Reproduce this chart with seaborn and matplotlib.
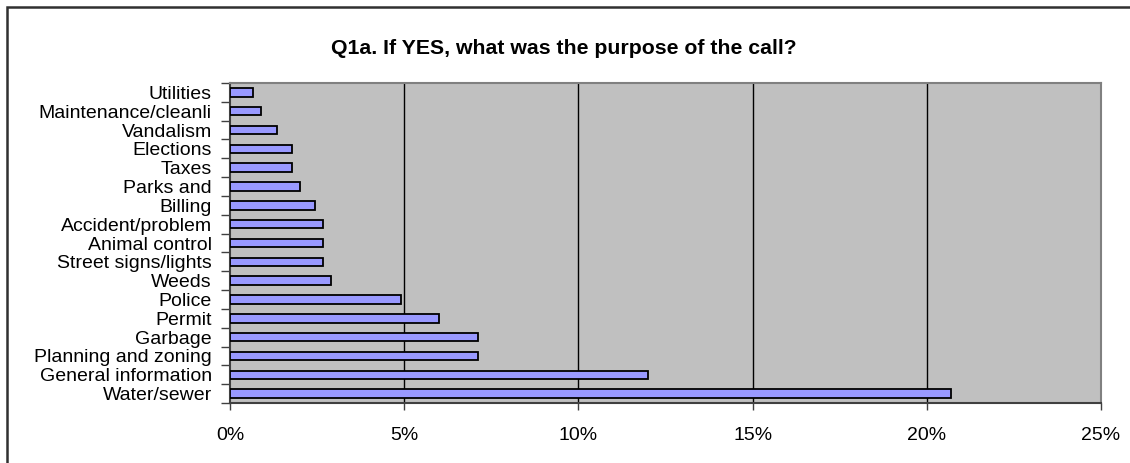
import matplotlib
matplotlib.use('Agg')
import matplotlib.pyplot as plt
import matplotlib.patches as patches
from matplotlib.ticker import PercentFormatter, FixedLocator
import seaborn as sns
import pandas as pd

# purpose of the call, top to bottom as in the chart
purposes = ['Utilities', 'Maintenance/cleanli', 'Vandalism', 'Elections', 'Taxes',
            'Parks and', 'Billing', 'Accident/problem', 'Animal control',
            'Street signs/lights', 'Weeds', 'Police', 'Permit', 'Garbage',
            'Planning and zoning', 'General information', 'Water/sewer']
# share of respondents, in percent
shares = [0.67, 0.89, 1.34, 1.78, 1.78, 2.0, 2.45, 2.67, 2.67, 2.67, 2.9,
          4.9, 6.0, 7.13, 7.13, 12.0, 20.7]
xticks = [0, 5, 10, 15, 20, 25]

df = pd.DataFrame({'purpose': purposes, 'share': shares})

sns.set_style('white')
plt.rcParams['font.family'] = ['Liberation Sans', 'DejaVu Sans']
plt.rcParams['text.color'] = 'black'

fig = plt.figure(figsize=(11.3, 4.63), dpi=100)
ax = fig.add_axes([230 / 1130, 1 - 403 / 463, (1101 - 230) / 1130, (403 - 83) / 463])

sns.barplot(data=df, x='share', y='purpose', orient='h', order=purposes,
            color='#9999FF', edgecolor='black', linewidth=1.3, width=0.45,
            saturation=1, ax=ax, zorder=3)

ax.set_facecolor('#C0C0C0')
ax.set_xlim(0, 25)
ax.set_ylim(len(purposes) - 0.5, -0.5)
ax.xaxis.set_major_locator(FixedLocator(xticks))
ax.xaxis.set_major_formatter(PercentFormatter(decimals=0))
for x in xticks[1:-1]:
    ax.axvline(x, color='black', lw=1, zorder=1)

ax.set_yticks(range(len(purposes)))
ax.set_yticks([i - 0.5 for i in range(len(purposes) + 1)], minor=True)
ax.tick_params(axis='y', which='major', length=0, pad=13, labelsize=14,
               labelcolor='black')
ax.tick_params(axis='y', which='minor', length=6.5, width=1, color='#404040',
               direction='out', left=True)
ax.tick_params(axis='x', which='major', length=5, width=1, color='#404040',
               direction='out', bottom=True, pad=12, labelsize=14,
               labelcolor='black')
ax.set_xlabel('')
ax.set_ylabel('')

for side in ['top', 'right']:
    ax.spines[side].set_color('#808080')
    ax.spines[side].set_linewidth(1.5)
for side in ['left', 'bottom']:
    ax.spines[side].set_color('#404040')
    ax.spines[side].set_linewidth(1.5)

fig.text(0.499, 1 - 48 / 463, 'Q1a. If YES, what was the purpose of the call?',
         ha='center', va='center', fontsize=15.3, fontweight='bold',
         color='black')

# chart border (right and bottom edges fall outside the picture)
fig.patches.append(patches.Rectangle((7 / 1130, -0.1), 2, 1.1 - 7 / 463,
                                     transform=fig.transFigure, fill=False,
                                     edgecolor='#303030', linewidth=1.8))

fig.savefig('out.png', dpi=100)
